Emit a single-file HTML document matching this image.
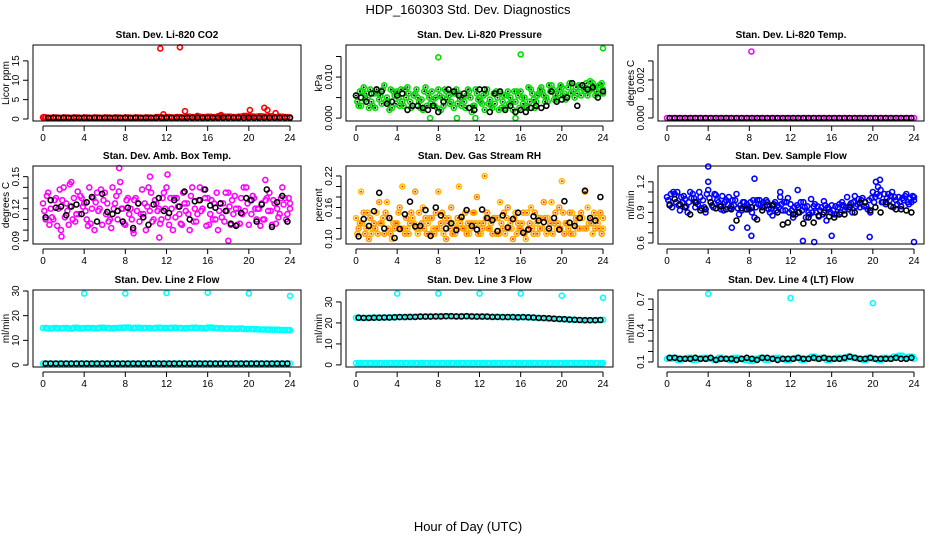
<!DOCTYPE html>
<html><head><meta charset="utf-8"><style>
body{margin:0;background:#fff;}
svg{display:block;font-family:"Liberation Sans",sans-serif;}
</style></head><body>
<svg id="chart" width="936" height="540" viewBox="0 0 936 540">
<text x="468" y="14" text-anchor="middle" font-size="13">HDP_160303  Std. Dev. Diagnostics</text>
<text x="468" y="531" text-anchor="middle" font-size="13">Hour of Day (UTC)</text>
</svg>
<script>
const hours=[0,0.5,1,1.5,2,2.5,3,3.5,4,4.5,5,5.5,6,6.5,7,7.5,8,8.5,9,9.5,10,10.5,11,11.5,12,12.5,13,13.5,14,14.5,15,15.5,16,16.5,17,17.5,18,18.5,19,19.5,20,20.5,21,21.5,22,22.5,23,23.5,24];
const hoursB=[0.25,0.75,1.25,1.75,2.25,2.75,3.25,3.75,4.25,4.75,5.25,5.75,6.25,6.75,7.25,7.75,8.25,8.75,9.25,9.75,10.25,10.75,11.25,11.75,12.25,12.75,13.25,13.75,14.25,14.75,15.25,15.75,16.25,16.75,17.25,17.75,18.25,18.75,19.25,19.75,20.25,20.75,21.25,21.75,22.25,22.75,23.25,23.75];
const hoursC=hours.map(h=>Math.min(24,h+0.125));
const hoursD=hoursB.map(h=>h+0.125);
const xTicks=[0,4,8,12,16,20,24];

// CO2
const co2Main=[0.4,0.3,0.4,0.3,0.4,0.3,0.4,0.3,0.4,0.3,0.4,0.3,0.4,0.3,0.4,0.3,0.4,0.3,0.4,0.3,0.4,0.3,0.5,0.4,0.5,0.4,0.5,0.4,0.6,0.5,0.6,0.5,0.6,0.5,0.7,0.6,0.6,0.5,0.6,0.8,0.7,0.6,0.7,0.6,0.7,0.5,0.6,0.5,0.4];
const co2OutX=[11.4,13.3,11.7,13.8,20.1,21.5,21.8,22.6,17.3,15.0,0.1];
const co2OutY=[18.2,18.5,1.2,2.0,2.3,2.9,2.3,1.5,1.0,0.8,0.5];
const co2Black=[0.3,0.3,0.3,0.3,0.3,0.3,0.3,0.3,0.3,0.3,0.3,0.3,0.3,0.3,0.3,0.3,0.3,0.3,0.3,0.3,0.3,0.3,0.3,0.3,0.3,0.3,0.3,0.3,0.3,0.3,0.3,0.3,0.3,0.3,0.3,0.3,0.3,0.3,0.3,0.3,0.3,0.3,0.3,0.3,0.3,0.3,0.3,0.3,0.3];
// Pressure (x0.001 kPa)
const presA=[5.5,3,6,4,7,3.5,5,2.5,6.5,4,7.5,3,5,2,6,4.5,7,3,5.5,2.5,6,4,6.5,3,5,2,4.5,3.5,6,2.5,5,4,6.5,3,7,4,7.5,5,8,4.5,7.5,5,8.5,6,8,5.5,8.5,6,7];
const presB=[3,7.5,2.5,6,4.5,8,2,5.5,3,7,4,6,2.5,7.5,3.5,5,2,6.5,4,7,3,5.5,1.5,6,3.5,7,2.5,5,4,6.5,2,5.5,3.5,7.5,4.5,6,5.5,8,4.5,7,6,8.5,5,7.5,6.5,9,5.5,8];
const presC=[4,6.5,5,3,6,7,4,6.5,5,3,6,5.5,4,6.5,5,3,5.5,7,3.5,6,4.5,2.5,5,7,4,6,3,6.5,2.5,5.5,4,6.5,5,2.5,6,5.5,6.5,4,7,6,5.5,7.5,6.5,8,7,6.5,7.5,8,6];
const presD=[6.5,4.5,7,2.5,5.5,4,7,3.5,7,5,2.5,7,4.5,3,6.5,2.5,5,4.5,6,3.5,5,7,3,4.5,5.5,3.5,6,2,5.5,3.5,6.5,2.5,5,4,2.5,7,4,6.5,5.5,8,4.5,6,7.5,5.5,8.5,7,6.5,8.5];
const presOutX=[8,16,24,7.2,9.8,11.6,15.5];
const presOutY=[14.8,15.5,17.0,0,0,0,0];
const presBlack=[5.5,5,4,6,7,6.5,3.5,4,5.5,6,2,3,3,2.5,2,3,1.5,4,7,6.5,5.5,6,2.5,2,7,7,1.5,6,6.5,2,3,1.5,2,1.5,2.5,3,2.5,3,6.5,4,4.5,5,8.5,3,8,7,7.5,5,6.5];
// Li-820 temp
const tempOutX=[8.2];
const tempOutY=[0.0035];
const zeros=[0,0,0,0,0,0,0,0,0,0,0,0,0,0,0,0,0,0,0,0,0,0,0,0,0,0,0,0,0,0,0,0,0,0,0,0,0,0,0,0,0,0,0,0,0,0,0,0,0];
// Amb box temp
const ambA=[0.125,0.135,0.11,0.12,0.14,0.105,0.13,0.115,0.125,0.14,0.1,0.12,0.135,0.11,0.125,0.145,0.105,0.12,0.13,0.115,0.1,0.135,0.125,0.11,0.14,0.12,0.13,0.105,0.125,0.14,0.115,0.12,0.13,0.11,0.1,0.125,0.135,0.115,0.12,0.14,0.105,0.13,0.12,0.11,0.135,0.125,0.115,0.13,0.12];
const ambB=[0.11,0.12,0.13,0.1,0.125,0.145,0.115,0.13,0.11,0.12,0.135,0.105,0.125,0.14,0.11,0.12,0.13,0.1,0.125,0.115,0.14,0.11,0.12,0.135,0.105,0.13,0.115,0.125,0.1,0.12,0.14,0.13,0.115,0.11,0.125,0.135,0.105,0.12,0.13,0.14,0.115,0.11,0.125,0.13,0.105,0.12,0.14,0.115];
const ambC=[0.118,0.105,0.128,0.138,0.112,0.122,0.108,0.132,0.118,0.106,0.126,0.138,0.115,0.102,0.132,0.12,0.128,0.11,0.118,0.138,0.122,0.108,0.118,0.13,0.112,0.1,0.122,0.135,0.115,0.108,0.128,0.138,0.105,0.125,0.118,0.108,0.122,0.132,0.106,0.118,0.128,0.12,0.104,0.128,0.118,0.106,0.13,0.11,0.125];
const ambD=[0.132,0.112,0.104,0.128,0.118,0.11,0.136,0.122,0.104,0.13,0.118,0.128,0.108,0.12,0.136,0.106,0.115,0.128,0.108,0.125,0.118,0.128,0.106,0.12,0.13,0.112,0.106,0.118,0.132,0.108,0.118,0.104,0.128,0.135,0.112,0.118,0.128,0.105,0.115,0.125,0.132,0.12,0.11,0.118,0.128,0.112,0.124,0.13];
const ambOutX=[7.4,1.8,18,12.1,10.4,21.6,8.8,2.6,11.3];
const ambOutY=[0.158,0.094,0.09,0.152,0.15,0.147,0.097,0.143,0.093];
const ambBlack=[0.112,0.128,0.121,0.122,0.114,0.122,0.124,0.115,0.126,0.131,0.108,0.134,0.117,0.115,0.118,0.108,0.121,0.102,0.125,0.112,0.105,0.124,0.13,0.118,0.116,0.128,0.122,0.136,0.11,0.127,0.128,0.138,0.123,0.121,0.125,0.118,0.106,0.104,0.116,0.13,0.128,0.108,0.124,0.138,0.103,0.126,0.132,0.108,0.125];
// Gas RH
const rhA=[0.14,0.19,0.12,0.11,0.15,0.13,0.17,0.1,0.13,0.2,0.12,0.14,0.11,0.16,0.13,0.12,0.19,0.11,0.14,0.13,0.2,0.12,0.11,0.15,0.13,0.22,0.12,0.14,0.17,0.11,0.13,0.15,0.12,0.1,0.16,0.13,0.14,0.11,0.17,0.12,0.21,0.13,0.15,0.12,0.14,0.16,0.11,0.13,0.12];
const rhB=[0.12,0.15,0.1,0.13,0.17,0.11,0.14,0.12,0.16,0.11,0.13,0.19,0.12,0.14,0.11,0.15,0.13,0.1,0.16,0.12,0.14,0.11,0.13,0.18,0.12,0.15,0.11,0.14,0.12,0.16,0.1,0.13,0.15,0.12,0.11,0.14,0.17,0.12,0.13,0.16,0.11,0.15,0.13,0.12,0.19,0.14,0.12,0.15];
const rhC=[0.11,0.13,0.15,0.12,0.11,0.14,0.12,0.13,0.15,0.12,0.11,0.13,0.15,0.12,0.14,0.11,0.12,0.14,0.12,0.11,0.13,0.15,0.12,0.13,0.11,0.14,0.13,0.11,0.13,0.14,0.12,0.11,0.13,0.15,0.12,0.11,0.12,0.14,0.11,0.13,0.15,0.12,0.11,0.14,0.12,0.13,0.15,0.12,0.14];
const rhD=[0.13,0.11,0.14,0.12,0.13,0.15,0.11,0.13,0.12,0.14,0.15,0.12,0.13,0.11,0.14,0.12,0.15,0.13,0.11,0.14,0.12,0.13,0.15,0.11,0.13,0.12,0.14,0.11,0.15,0.12,0.14,0.12,0.11,0.13,0.15,0.12,0.14,0.13,0.15,0.12,0.13,0.11,0.14,0.15,0.12,0.13,0.14,0.11];
const rhBlack=[0.105,0.138,0.125,0.153,0.188,0.12,0.14,0.102,0.119,0.147,0.171,0.124,0.125,0.155,0.106,0.16,0.145,0.12,0.13,0.117,0.142,0.155,0.125,0.118,0.156,0.14,0.136,0.115,0.145,0.122,0.138,0.15,0.112,0.118,0.143,0.135,0.132,0.12,0.14,0.118,0.172,0.131,0.125,0.14,0.192,0.14,0.135,0.18,0.115];
// Sample flow
const sfA=[1.05,0.95,1.1,1.0,0.9,1.08,0.98,1.02,1.12,0.95,1.0,0.92,1.05,0.97,0.88,1.0,0.93,0.85,1.02,0.96,0.9,1.0,1.05,0.92,0.98,0.88,1.0,0.85,1.03,0.9,0.95,0.82,0.97,0.88,1.0,1.05,0.9,0.98,1.04,0.93,1.1,1.15,1.0,1.08,0.95,1.05,1.02,0.98,1.05];
const sfB=[0.98,1.08,0.92,1.03,1.1,0.95,1.05,0.9,1.0,1.07,0.93,1.02,0.96,1.08,0.92,0.98,0.9,1.02,0.95,1.0,0.87,0.97,0.92,1.04,0.85,0.95,1.0,0.9,0.96,0.86,1.01,0.93,0.88,0.98,0.92,0.97,1.06,0.95,1.0,0.9,1.05,1.12,0.98,1.06,1.02,0.96,1.08,1.0];
const sfC=[1.02,1.1,0.97,1.06,1.0,1.04,1.1,0.95,1.04,1.08,0.96,1.0,0.94,1.02,0.97,0.93,1.0,0.95,0.98,1.02,0.94,0.92,0.98,1.0,0.92,0.97,0.92,0.96,0.9,0.96,0.88,0.95,0.92,0.95,0.97,0.93,1.0,1.03,0.96,1.02,1.0,1.06,1.08,1.02,1.05,1.0,1.06,1.04,1.02];
const sfD=[1.08,1.0,1.05,0.96,1.04,1.0,0.94,1.08,0.97,1.02,1.06,0.98,1.02,0.94,1.0,0.95,1.02,0.98,1.0,0.93,0.98,0.95,1.0,0.9,0.95,0.9,0.95,0.88,0.98,0.92,0.97,0.9,0.96,0.9,0.95,0.99,0.96,1.02,0.96,1.04,1.08,1.0,1.04,1.1,0.98,1.04,1.0,1.06];
const sfOutX=[4,8.5,4,6.3,7.8,8.2,13.2,14.3,16,19.7,24,11,12.7,20.3,20.7];
const sfOutY=[1.35,1.23,1.2,0.75,0.75,0.67,0.62,0.61,0.67,0.66,0.61,1.1,1.12,1.2,1.22];
const sfBlack=[0.97,1.03,0.98,0.95,0.88,1.0,0.92,0.93,1.0,0.94,0.96,0.93,0.93,0.82,0.94,0.93,0.95,0.83,0.92,0.97,0.97,0.9,0.78,0.8,0.88,0.9,0.79,0.85,0.8,0.87,0.9,0.86,0.85,0.88,0.88,0.95,0.9,0.99,1.0,0.92,0.95,0.9,1.0,0.96,0.93,0.93,0.92,0.9,1.0];
// Line 2
const l2Hi=[15,14.8,15,14.9,15,14.8,15.1,14.9,15,15,14.9,15.1,15,14.9,15,15.1,15.2,15,15.1,15,15,14.9,15.1,15,15,15.1,15,14.9,15,15.1,15,14.9,15.2,15,14.9,14.8,14.8,14.7,14.8,14.6,14.6,14.5,14.4,14.4,14.3,14.3,14.2,14.2,14.1];
const l2Low=[0.6,0.6,0.6,0.6,0.6,0.6,0.6,0.6,0.6,0.6,0.6,0.6,0.6,0.6,0.6,0.6,0.6,0.6,0.6,0.6,0.6,0.6,0.6,0.6,0.6,0.6,0.6,0.6,0.6,0.6,0.6,0.6,0.6,0.6,0.6,0.6,0.6,0.6,0.6,0.6,0.6,0.6,0.6,0.6,0.6,0.6,0.6,0.6,0.6];
const l2OutX=[4,8,12,16,20,24];
const l2OutY=[29,29,29.2,29.3,29,28];
// Line 3
const l3Hi=[22.5,22.4,22.4,22.5,22.5,22.6,22.6,22.7,22.8,22.8,22.9,22.9,23,23,23,23.1,23.1,23.2,23.2,23.1,23.1,23.2,23.1,23,23,23,22.9,22.9,22.8,22.8,22.8,22.7,22.8,22.7,22.6,22.4,22.3,22.2,22,21.9,21.8,21.6,21.5,21.4,21.3,21.3,21.3,21.4,21.5];
const l3Low=[0.8,0.8,0.8,0.8,0.8,0.8,0.8,0.8,0.8,0.8,0.8,0.8,0.8,0.8,0.8,0.8,0.8,0.8,0.8,0.8,0.8,0.8,0.8,0.8,0.8,0.8,0.8,0.8,0.8,0.8,0.8,0.8,0.8,0.8,0.8,0.8,0.8,0.8,0.8,0.8,0.8,0.8,0.8,0.8,0.8,0.8,0.8,0.8,0.8];
const l3OutX=[4,8,12,16,20,24];
const l3OutY=[34,34,34,34,33,32];
// Line 4
const l4A=[0.13,0.14,0.12,0.13,0.14,0.12,0.13,0.14,0.13,0.12,0.14,0.13,0.12,0.14,0.13,0.12,0.11,0.13,0.14,0.12,0.13,0.14,0.13,0.12,0.13,0.14,0.12,0.13,0.15,0.13,0.14,0.12,0.13,0.14,0.13,0.15,0.14,0.13,0.12,0.14,0.13,0.12,0.14,0.13,0.15,0.16,0.14,0.15,0.13];
const l4OutX=[4,12,20];
const l4OutY=[0.75,0.71,0.66];
const l4Black=[0.14,0.14,0.13,0.13,0.13,0.14,0.13,0.13,0.14,0.12,0.13,0.13,0.13,0.12,0.13,0.14,0.13,0.12,0.14,0.14,0.13,0.12,0.13,0.13,0.13,0.14,0.13,0.13,0.14,0.13,0.14,0.13,0.13,0.13,0.14,0.15,0.14,0.13,0.13,0.14,0.13,0.13,0.13,0.13,0.14,0.13,0.13,0.14,0.14];

const NS='http://www.w3.org/2000/svg';
const svg=document.getElementById('chart');
function mk(tag,attrs,parent){const e=document.createElementNS(NS,tag);for(const k in attrs)e.setAttribute(k,attrs[k]);(parent||svg).appendChild(e);return e;}

const colX=[{l:33,r:301,x0:43,x24:290},{l:346,r:613,x0:356,x24:603},{l:658,r:924,x0:667,x24:914}];
const rowY=[{t:45,b:121},{t:166,b:244},{t:290,b:367}];

function panel(ci,ri,name,title,ylab,lo,hi,ticks,labels,series){
  const c=colX[ci],r=rowY[ri];
  const g=mk('g',{});
  
  
  const sx=v=>c.x0+(v/24)*(c.x24-c.x0);
  const sy=v=>r.b-(v-lo)/(hi-lo)*(r.b-r.t);
  const t=mk('text',{x:(c.l+c.r)/2,y:r.t-7,'text-anchor':'middle','font-size':'10','font-weight':'bold'},g);
  t.textContent=title;
  
  
  series.forEach(s=>{
    const sg=mk('g',{fill:'none',stroke:s.color,'stroke-width':'1.6'},g);
    
    
    const n=Math.min(s.x.length,s.y.length);
    for(let i=0;i<n;i++){
      const cy=sy(s.y[i]);
      mk('circle',{cx:sx(s.x[i]).toFixed(1),cy:cy.toFixed(1),r:'2.5'},sg);
      if(s.dot) mk('circle',{cx:sx(s.x[i]).toFixed(1),cy:cy.toFixed(1),r:'1',fill:s.dot,stroke:'none'},sg);
    }
  });
  const b=mk('rect',{x:c.l,y:r.t,width:c.r-c.l,height:r.b-r.t,fill:'none',stroke:'#000','stroke-width':'1'},g);
  
  
  const xa=mk('g',{},g);
  
  
  mk('line',{x1:sx(0),x2:sx(24),y1:r.b+5,y2:r.b+5,stroke:'#000'},xa);
  xTicks.forEach(v=>{
    mk('line',{x1:sx(v),x2:sx(v),y1:r.b+5,y2:r.b+10,stroke:'#000'},xa);
    const tl=mk('text',{x:sx(v),y:r.b+20,'text-anchor':'middle','font-size':'10'},xa);
    tl.textContent=v;
  });
  const ya=mk('g',{},g);
  
  
  const ax=c.l-5;
  mk('line',{x1:ax,x2:ax,y1:sy(ticks[0]),y2:sy(ticks[ticks.length-1]),stroke:'#000'},ya);
  ticks.forEach((v,i)=>{
    mk('line',{x1:ax-5,x2:ax,y1:sy(v),y2:sy(v),stroke:'#000'},ya);
    if(labels[i]!==''){
      const tl=mk('text',{x:0,y:0,'text-anchor':'middle','font-size':'10',transform:`translate(${ax-9},${sy(v)}) rotate(-90)`},ya);
      tl.textContent=labels[i];
    }
  });
  const yl=mk('text',{x:0,y:0,'text-anchor':'middle','font-size':'10',transform:`translate(${c.l-24},${(r.t+r.b)/2}) rotate(-90)`},g);
  yl.textContent=ylab;
  
  
}

panel(0,0,'panel-co2','Stan. Dev. Li-820 CO2','Licor ppm',-0.52,19.1,[0,5,10,15],['0','5','10','15'],[
 {name:'co2-series',color:'#ff0000',x:hours,y:co2Main},
 {name:'co2-series-b',color:'#ff0000',x:hoursB,y:co2Main},
 {name:'co2-outliers',color:'#ff0000',x:co2OutX,y:co2OutY},
 {name:'co2-black-series',color:'#000',x:hours.slice(1),y:co2Black}]);
panel(1,0,'panel-pressure','Stan. Dev. Li-820 Pressure','kPa',-0.0007,0.0178,[0,0.005,0.01,0.015],['0.000','','0.010',''],[
 {name:'pressure-series-a',color:'#00dd00',x:hours,y:presA.map(v=>v/1000),dot:'#000'},
 {name:'pressure-series-b',color:'#00dd00',x:hoursB,y:presB.map(v=>v/1000),dot:'#000'},
 {name:'pressure-series-c',color:'#00dd00',x:hoursC,y:presC.map(v=>v/1000),dot:'#000'},
 {name:'pressure-series-d',color:'#00dd00',x:hoursD,y:presD.map(v=>v/1000),dot:'#000'},
 {name:'pressure-outliers',color:'#00dd00',x:presOutX,y:presOutY.map(v=>v/1000)},
 {name:'pressure-black-series',color:'#000',x:hours,y:presBlack.map(v=>v/1000)}]);
panel(2,0,'panel-temp','Stan. Dev. Li-820 Temp.','degrees C',-0.00016,0.00384,[0,0.001,0.002,0.003],['0.000','','0.002',''],[
 {name:'temp-series',color:'#ff00ff',x:hours,y:zeros},
 {name:'temp-outliers',color:'#ff00ff',x:tempOutX,y:tempOutY},
 {name:'temp-black-series',color:'#000',x:hoursB,y:zeros}]);
panel(0,1,'panel-amb-box','Stan. Dev. Amb. Box Temp.','degrees C',0.087,0.160,[0.09,0.10,0.11,0.12,0.13,0.14,0.15],['0.09','','','0.12','','','0.15'],[
 {name:'amb-series-a',color:'#ff00ff',x:hours,y:ambA,dot:'#ffffff'},
 {name:'amb-series-b',color:'#ff00ff',x:hoursB,y:ambB,dot:'#ffffff'},
 {name:'amb-series-c',color:'#ff00ff',x:hoursC,y:ambC,dot:'#ffffff'},
 {name:'amb-series-d',color:'#ff00ff',x:hoursD,y:ambD,dot:'#ffffff'},
 {name:'amb-outliers',color:'#ff00ff',x:ambOutX,y:ambOutY},
 {name:'amb-black-series',color:'#000',x:hoursB,y:ambBlack}]);
panel(1,1,'panel-gas-rh','Stan. Dev. Gas Stream RH','percent',0.0905,0.239,[0.10,0.12,0.14,0.16,0.18,0.20,0.22],['0.10','','','0.16','','','0.22'],[
 {name:'rh-series-a',color:'#ffc000',x:hours,y:rhA,dot:'#ff2200'},
 {name:'rh-series-b',color:'#ffa000',x:hoursB,y:rhB,dot:'#ff2200'},
 {name:'rh-series-c',color:'#ffb000',x:hoursC,y:rhC,dot:'#ff2200'},
 {name:'rh-series-d',color:'#ffa000',x:hoursD,y:rhD,dot:'#ff2200'},
 {name:'rh-black-series',color:'#000',x:hoursB,y:rhBlack}]);
panel(2,1,'panel-sample-flow','Stan. Dev. Sample Flow','ml/min',0.59,1.355,[0.6,0.7,0.8,0.9,1.0,1.1,1.2],['0.6','','','0.9','','','1.2'],[
 {name:'flow-series-a',color:'#0000ff',x:hours,y:sfA},
 {name:'flow-series-b',color:'#0000ff',x:hoursB,y:sfB},
 {name:'flow-series-c',color:'#0000ff',x:hoursC,y:sfC},
 {name:'flow-series-d',color:'#0000ff',x:hoursD,y:sfD},
 {name:'flow-outliers',color:'#0000ff',x:sfOutX,y:sfOutY},
 {name:'flow-black-series',color:'#000',x:hoursB,y:sfBlack}]);
panel(0,2,'panel-line2','Stan. Dev. Line 2 Flow','ml/min',-0.8,30.4,[0,10,20,30],['0','10','20','30'],[
 {name:'line2-high-a',color:'#00ffff',x:hours,y:l2Hi},
 {name:'line2-high-b',color:'#00ffff',x:hoursB,y:l2Hi},
 {name:'line2-high-c',color:'#00ffff',x:hoursD,y:l2Hi},
 {name:'line2-low',color:'#00ffff',x:hours,y:l2Low},
 {name:'line2-outliers',color:'#00ffff',x:l2OutX,y:l2OutY},
 {name:'line2-black-series',color:'#000',x:hoursB,y:l2Low}]);
panel(1,2,'panel-line3','Stan. Dev. Line 3 Flow','ml/min',-1,35.7,[0,10,20,30],['0','10','20','30'],[
 {name:'line3-high',color:'#00ffff',x:hours,y:l3Hi},
 {name:'line3-low-a',color:'#00ffff',x:hours,y:l3Low},
 {name:'line3-low-b',color:'#00ffff',x:hoursB,y:l3Low},
 {name:'line3-low-c',color:'#00ffff',x:hoursD,y:l3Low},
 {name:'line3-outliers',color:'#00ffff',x:l3OutX,y:l3OutY},
 {name:'line3-black-series',color:'#000',x:hoursB,y:l3Hi}]);
panel(2,2,'panel-line4','Stan. Dev. Line 4 (LT) Flow','ml/min',0.052,0.786,[0.1,0.2,0.3,0.4,0.5,0.6,0.7],['0.1','','','0.4','','','0.7'],[
 {name:'line4-series-a',color:'#00ffff',x:hours,y:l4A},
 {name:'line4-series-b',color:'#00ffff',x:hoursB,y:l4A},
 {name:'line4-series-c',color:'#00ffff',x:hoursD,y:l4A},
 {name:'line4-outliers',color:'#00ffff',x:l4OutX,y:l4OutY},
 {name:'line4-black-series',color:'#000',x:hoursB,y:l4Black}]);
</script>
</body></html>
